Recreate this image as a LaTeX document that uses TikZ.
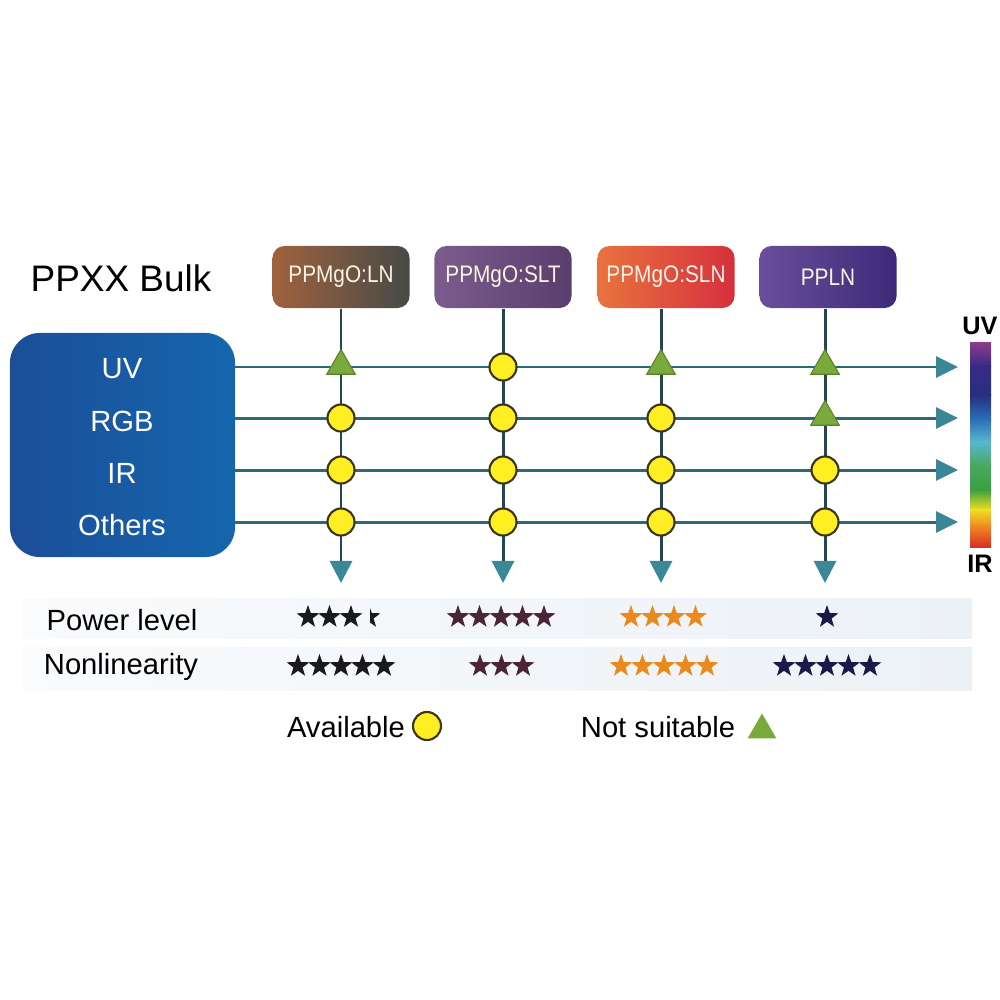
\documentclass[tikz,border=0pt]{standalone}
\usepackage{fontspec}
\setmainfont{Liberation Sans}
\usetikzlibrary{shapes.geometric,arrows.meta}
\definecolor{lineteal}{HTML}{2C6A7A}
\definecolor{vdark}{HTML}{1F4853}
\definecolor{headteal}{HTML}{3A8797}
\definecolor{dotyellow}{HTML}{FFEE22}
\definecolor{dotedge}{HTML}{3A3418}
\definecolor{trigreen}{HTML}{7AAA3C}
\definecolor{bandc}{HTML}{ECF1F6}
\definecolor{starblack}{HTML}{1A1A1A}
\definecolor{starmaroon}{HTML}{4A2535}
\definecolor{starorange}{HTML}{E88A1E}
\definecolor{starnavy}{HTML}{1A1A48}
\definecolor{boxAl}{HTML}{A0623E}
\definecolor{boxAr}{HTML}{464A47}
\definecolor{boxBl}{HTML}{7C5C8C}
\definecolor{boxBr}{HTML}{5A3E6E}
\definecolor{boxCl}{HTML}{E8733E}
\definecolor{boxCr}{HTML}{D6303E}
\definecolor{boxDl}{HTML}{6A4E9C}
\definecolor{boxDr}{HTML}{3C2A78}
\definecolor{srcl}{HTML}{1C4E98}
\definecolor{srcr}{HTML}{1566AE}
\definecolor{labtext}{HTML}{FAF3E4}
\newcommand\starline[5]{%
  \foreach \k in {1,...,#4} {\node[rate, fill=#5] (#1-\k) at ({#2+(\k-1)*21.5},#3) {};}}
\begin{document}
\begin{tikzpicture}[x=0.01cm,y=-0.01cm,
  matbox/.style={rounded corners=0.12cm, minimum width=1.37cm, minimum height=0.62cm, inner sep=0pt,
     text=labtext, font=\fontsize{6.8}{8}\selectfont},
  srcbox/.style={rounded corners=0.3cm, minimum width=2.25cm, minimum height=2.24cm, inner sep=0pt,
     left color=srcl, right color=srcr},
  srctext/.style={text=white, inner sep=0pt, font=\fontsize{8.3}{10}\selectfont},
  rowtext/.style={text=black, inner sep=0pt, font=\fontsize{8.3}{10}\selectfont},
  hline/.style={draw=lineteal, line width=0.85pt, -{Triangle[length=0.22cm,width=0.21cm,color=headteal]}},
  vline/.style={draw=vdark, line width=0.85pt, -{Triangle[length=0.22cm,width=0.22cm,color=headteal]}},
  ok/.style={circle, draw=dotedge, line width=0.6pt, fill=dotyellow, minimum size=0.27cm, inner sep=0pt},
  bad/.style={regular polygon, regular polygon sides=3, fill=trigreen, draw=trigreen!75!black, line width=0.3pt,
     minimum size=0.33cm, inner sep=0pt},
  rate/.style={star, star points=5, star point ratio=2.5, minimum size=0.24cm, inner sep=0pt, draw=none},
  barlabel/.style={inner sep=0pt, font=\bfseries\fontsize{7.2}{9}\selectfont}
]
\useasboundingbox (0,0) rectangle (1000,1000);

% title
\node[inner sep=0pt, font=\fontsize{10.5}{12}\selectfont] (title) at (121,278) {PPXX Bulk};

% material boxes
\node[matbox, left color=boxAl, right color=boxAr] (b1) at (341,277) {\scalebox{0.87}[1]{PPMgO:LN}};
\node[matbox, left color=boxBl, right color=boxBr] (b2) at (503,277) {\scalebox{0.87}[1]{PPMgO:SLT}};
\node[matbox, left color=boxCl, right color=boxCr] (b3) at (666,277) {\scalebox{0.87}[1]{PPMgO:SLN}};
\node[matbox, left color=boxDl, right color=boxDr] (b4) at (828,277) {\scalebox{0.87}[1]{PPLN}};

% source box
\node[srcbox] (src) at (122.5,445) {};
\node[srctext] (tuv) at (122,369) {UV};
\node[srctext] (trgb) at (122,421) {RGB};
\node[srctext] (tir) at (122,473) {IR};
\node[srctext] (toth) at (122,525) {Others};

% colour bar
\shade[top color={rgb,255:red,142;green,60;blue,140}, bottom color={rgb,255:red,58;green,42;blue,136}] (970,342) rectangle (991,366);
\shade[top color={rgb,255:red,58;green,42;blue,136}, bottom color={rgb,255:red,40;green,46;blue,128}] (970,365.5) rectangle (991,395);
\shade[top color={rgb,255:red,40;green,46;blue,128}, bottom color={rgb,255:red,42;green,112;blue,184}] (970,394.5) rectangle (991,420);
\shade[top color={rgb,255:red,42;green,112;blue,184}, bottom color={rgb,255:red,88;green,184;blue,204}] (970,419.5) rectangle (991,442);
\shade[top color={rgb,255:red,88;green,184;blue,204}, bottom color={rgb,255:red,72;green,168;blue,96}] (970,441.5) rectangle (991,466);
\shade[top color={rgb,255:red,72;green,168;blue,96}, bottom color={rgb,255:red,58;green,160;blue,64}] (970,465.5) rectangle (991,490);
\shade[top color={rgb,255:red,58;green,160;blue,64}, bottom color={rgb,255:red,240;green,224;blue,32}] (970,489.5) rectangle (991,510);
\shade[top color={rgb,255:red,240;green,224;blue,32}, bottom color={rgb,255:red,240;green,144;blue,32}] (970,509.5) rectangle (991,525);
\shade[top color={rgb,255:red,240;green,144;blue,32}, bottom color={rgb,255:red,216;green,48;blue,36}] (970,524.5) rectangle (991,547);
\node[barlabel] (luv) at (980,326) {UV};
\node[barlabel] (lir) at (980,564) {IR};

% free ends of connectors
\foreach \r/\y in {1/367,2/418,3/470,4/522} {
  \coordinate (hs\r) at (235,\y);
  \coordinate (he\r) at (958,\y);
}
\foreach \c/\x in {1/341,2/503,3/661,4/825} {
  \coordinate (ve\c) at (\x,583);
}

% horizontal connectors
\foreach \r in {1,2,3,4} {\draw[hline] (hs\r) -- (he\r);}
% vertical connectors
\draw[vline] (b1.south -| ve1) -- (ve1);
\draw[vline] (b2.south -| ve2) -- (ve2);
\draw[vline] (b3.south -| ve3) -- (ve3);
\draw[vline] (b4.south -| ve4) -- (ve4);

% markers
\node[bad] (m11) at (341,366) {};
\node[ok]  (m12) at (341,418) {};
\node[ok]  (m13) at (341,470) {};
\node[ok]  (m14) at (341,522) {};
\node[ok]  (m21) at (503,367) {};
\node[ok]  (m22) at (503,418) {};
\node[ok]  (m23) at (503,470) {};
\node[ok]  (m24) at (503,522) {};
\node[bad] (m31) at (661,366) {};
\node[ok]  (m32) at (661,418) {};
\node[ok]  (m33) at (661,470) {};
\node[ok]  (m34) at (661,522) {};
\node[bad] (m41) at (825,366) {};
\node[bad] (m42) at (825,417) {};
\node[ok]  (m43) at (825,470) {};
\node[ok]  (m44) at (825,522) {};

% rating bands
\shade[left color=white!70!bandc, right color=bandc] (22,598) rectangle (972,638);
\shade[left color=white!70!bandc, right color=bandc] (22,647) rectangle (972,690);
\node[rowtext] (pl) at (122,620) {Power level};
\node[rowtext] (nl) at (121,667) {Nonlinearity};

% stars: power level
\starline{pa}{308}{617}{3}{starblack}
\begin{scope}
  \clip (370,600) rectangle (380,632);
  \node[rate, fill=starblack] (pa-half) at (369,617) {};
\end{scope}
\starline{pb}{458}{617}{5}{starmaroon}
\starline{pc}{631}{617}{4}{starorange}
\starline{pd}{827}{617}{1}{starnavy}
% stars: nonlinearity
\starline{na}{298}{666}{5}{starblack}
\starline{nb}{480}{666}{3}{starmaroon}
\starline{nc}{621}{666}{5}{starorange}
\starline{nd}{784}{666}{5}{starnavy}

% legend
\node[rowtext] (lav) at (346,727) {Available};
\node[ok, minimum size=0.28cm] (lavm) at (427,726) {};
\node[rowtext] (lns) at (658,727) {Not suitable};
\node[bad, draw=none] (lnsm) at (762,730) {};
\end{tikzpicture}
\end{document}
